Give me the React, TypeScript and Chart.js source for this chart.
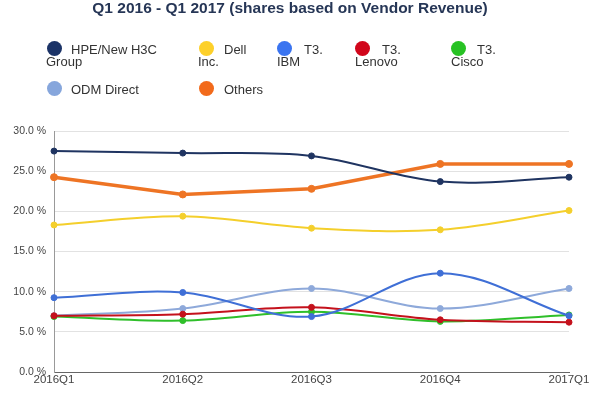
import React, { useEffect, useRef } from "react";
import { Chart, registerables } from "chart.js";

Chart.register(...registerables);

const categories = ["2016Q1", "2016Q2", "2016Q3", "2016Q4", "2017Q1"];
const hpe = [27.5, 27.25, 26.9, 23.7, 24.25];
const dell = [18.3, 19.4, 17.9, 17.7, 20.1];
const ibm = [9.25, 9.9, 6.9, 12.3, 7.0];
const lenovo = [7.0, 7.2, 8.05, 6.5, 6.2];
const cisco = [6.9, 6.4, 7.5, 6.3, 7.1];
const odm = [7.0, 7.9, 10.4, 7.9, 10.4];
const others = [24.25, 22.1, 22.8, 25.9, 25.9];
const yMin = 0;
const yMax = 30;
const yStep = 5;

const titleText = "Q1 2016 - Q1 2017 (shares based on Vendor Revenue)";

const seriesNames = [["HPE/New H3C", "Group"], ["Dell", "Inc."], ["T3.", "IBM"], ["T3.", "Lenovo"], ["T3.", "Cisco"], ["ODM Direct"], ["Others"]];
const seriesData = [hpe, dell, ibm, lenovo, cisco, odm, others];
const seriesColors = ["#1f3461", "#f4cf2c", "#3f6fd6", "#c4111c", "#2fbf2a", "#8ea9da", "#ee7424"];
const legendDot = ["#1b3367", "#fdd02a", "#3a74f0", "#d1061b", "#28c224", "#86a6dc", "#f26a1b"];
const lineWidths = [2, 2, 2, 2, 2, 2, 3.5];
const tensions = [0.35, 0.35, 0.35, 0.35, 0.35, 0.35, 0];

// legend layout: [circleCenterX, circleCenterY, line1X, line2X]
const legendPos = [
  [54, 48, 71, 46],
  [206, 48, 224, 198],
  [284, 48, 304, 277],
  [362, 48, 382, 355],
  [458, 48, 477, 451],
  [54, 88, 71, 46],
  [206, 88, 224, 198],
];

const FONT = "'Liberation Sans', Arial, Helvetica, sans-serif";

export default function App() {
  const ref = useRef<HTMLCanvasElement | null>(null);

  useEffect(() => {
    if (!ref.current) return;
    const chart = new Chart(ref.current, {
      type: "line",
      data: {
        labels: categories,
        datasets: seriesData.map((d, i) => ({
          label: seriesNames[i].join(" "),
          data: d,
          borderColor: seriesColors[i],
          backgroundColor: seriesColors[i],
          pointBackgroundColor: seriesColors[i],
          pointBorderColor: seriesColors[i],
          borderWidth: lineWidths[i],
          pointRadius: i === 6 ? 3.5 : 3,
          pointBorderWidth: 1,
          tension: tensions[i],
          fill: false,
        })),
      },
      options: {
        animation: false,
        responsive: true,
        maintainAspectRatio: false,
        layout: { padding: { left: 0, right: 31, top: 131, bottom: 0 } },
        plugins: {
          legend: { display: false },
          title: { display: false },
          tooltip: { enabled: false },
        },
        scales: {
          x: {
            offset: false,
            grid: { display: false, drawTicks: false },
            border: { color: "#666", width: 1 },
            ticks: {
              color: "#444",
              font: { family: FONT, size: 11.5 },
              padding: 1,
              maxRotation: 0,
              autoSkip: false,
            },
            afterFit: (s: any) => {
              s.height = 28;
            },
          },
          y: {
            min: yMin,
            max: yMax,
            grid: { color: "#e2e2e2", drawTicks: false },
            border: { color: "#999", width: 1 },
            ticks: {
              stepSize: yStep,
              color: "#444",
              font: { family: FONT, size: 10.5 },
              padding: 8,
              callback: (v: any) => Number(v).toFixed(1) + " %",
            },
            afterFit: (s: any) => {
              s.width = 54;
            },
          },
        },
      },
    });
    return () => chart.destroy();
  }, []);

  return (
    <div style={{ position: "absolute", left: 0, top: 0, width: 600, height: 400, background: "#fff", overflow: "hidden" }}>
      <canvas ref={ref} style={{ position: "absolute", left: 0, top: 0 }} />
      <div
        style={{
          position: "absolute",
          left: 0,
          width: 580,
          top: -1,
          textAlign: "center",
          font: `bold 15.5px ${FONT}`,
          color: "#263656",
          lineHeight: "17px",
          whiteSpace: "nowrap",
        }}
      >
        {titleText}
      </div>
      {seriesNames.map((lines, i) => {
        const [cx, cy, x1, x2] = legendPos[i];
        return (
          <React.Fragment key={i}>
            <div
              style={{
                position: "absolute",
                left: cx - 7.5,
                top: cy - 7.5,
                width: 15,
                height: 15,
                borderRadius: "50%",
                background: legendDot[i],
              }}
            />
            <div style={{ position: "absolute", left: x1, top: cy - 6.5, font: `13px ${FONT}`, color: "#333", lineHeight: "16px", whiteSpace: "nowrap" }}>
              {lines[0]}
            </div>
            {lines[1] && (
              <div style={{ position: "absolute", left: x2, top: cy + 6, font: `13px ${FONT}`, color: "#333", lineHeight: "16px", whiteSpace: "nowrap" }}>
                {lines[1]}
              </div>
            )}
          </React.Fragment>
        );
      })}
    </div>
  );
}
